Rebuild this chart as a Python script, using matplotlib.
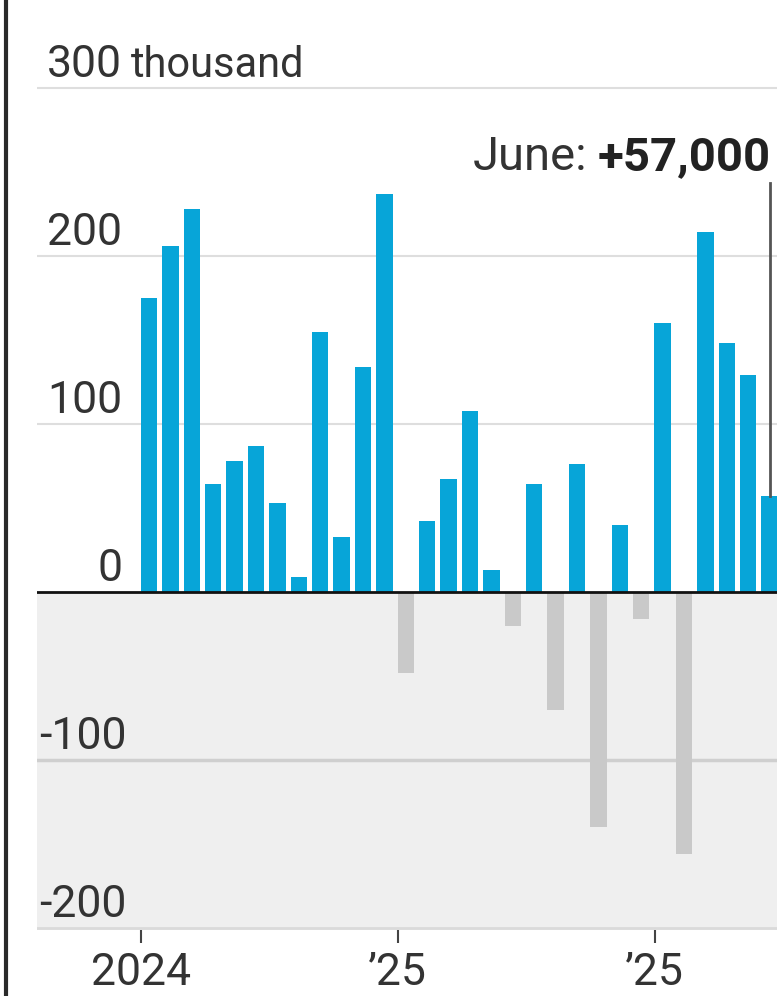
import matplotlib
matplotlib.use("Agg")
import matplotlib.pyplot as plt
from matplotlib.lines import Line2D
import numpy as np

plt.rcParams['font.family'] = ['Roboto', 'DejaVu Sans']

# Monthly change, thousands (Jan 2024 .. Jun 2026)
values = [175, 206, 228, 64, 78, 87, 53, 9, 155, 33, 134, 237,
          -48, 42, 67, 108, 13, -20, 64, -70, 76, -140, 40, -16,
          160, -156, 214, 148, 129, 57]
y_ticks = [300, 200, 100, 0, -100, -200]
y_labels = ['300', '200', '100', '0', '-100', '-200']
unit_label = 'thousand'
x_tick_idx = [0, 12, 24]
x_tick_labels = ['2024', '\u201925', '\u201925']
note_regular = 'June:'
note_bold = '+57,000'

W, H = 777, 996
fig = plt.figure(figsize=(W / 100, H / 100), dpi=100)
ax_left_px, ax_bottom_px = 37, 930
ax = fig.add_axes([ax_left_px / W, (H - ax_bottom_px) / H, 1 - ax_left_px / W, ax_bottom_px / H])

step = 21.4
c0 = 149
x = np.arange(len(values))
ax.set_xlim((ax_left_px - c0) / step, (W - c0) / step)
ppu = 1.68
zero_px = 592
ax.set_ylim(-(ax_bottom_px - zero_px) / ppu, zero_px / ppu)

text_col = '#333333'
ax.axhspan(-300, 0, color='#efefef', zorder=0, lw=0)
for v in [300, 200, 100]:
    ax.axhline(v, color='#dedede', lw=1.5, zorder=1)
ax.axhline(-100, color='#cfcfcf', lw=2.5, zorder=1)
ax.axhline(-200, color='#dadada', lw=2, zorder=1)

colors = ['#07a5d8' if v >= 0 else '#c9c9c9' for v in values]
ax.bar(x, values, width=0.76, color=colors, zorder=2, lw=0)
ax.axhline(0, color='#111111', lw=2, zorder=3)

fs = 32
for v, lab in zip(y_ticks, y_labels):
    xx = (122 - c0) / step if v >= 0 else (127 - c0) / step
    ax.text(xx, v + 6.5, lab, ha='right', va='baseline',
            fontsize=fs, color=text_col, zorder=4)
ax.text((131 - c0) / step, 300 + 6.5, unit_label, ha='left', va='baseline',
        fontsize=30, color=text_col, zorder=4)

for s in ax.spines.values():
    s.set_visible(False)
ax.set_yticks([])
ax.set_xticks([i - 0.37 for i in x_tick_idx])
ax.set_xticklabels(x_tick_labels, fontsize=fs, color=text_col)
ax.tick_params(axis='x', length=9, width=1.5, color='#444444', pad=7, direction='out')

# annotation for June
last = len(values) - 1
base_v = (zero_px - 170) / ppu
tb = ax.text(last + 0.05, base_v, note_bold, ha='right', va='baseline',
             fontsize=34, fontweight='bold', color='#222222', zorder=5)
fig.canvas.draw()
bb = tb.get_window_extent()
x_left_data = ax.transData.inverted().transform((bb.x0 - 10, 0))[0]
ax.text(x_left_data, base_v, note_regular, ha='right', va='baseline',
        fontsize=34, color=text_col, zorder=5)
ax.plot([last, last], [(zero_px - 183) / ppu, values[last]], color='#555555', lw=2, zorder=4)

# left frame line
fig.add_artist(Line2D([5.5 / W, 5.5 / W], [0, 1], color='#2a2a2a', lw=3, transform=fig.transFigure))

fig.savefig('out.png', dpi=100, facecolor='white')
